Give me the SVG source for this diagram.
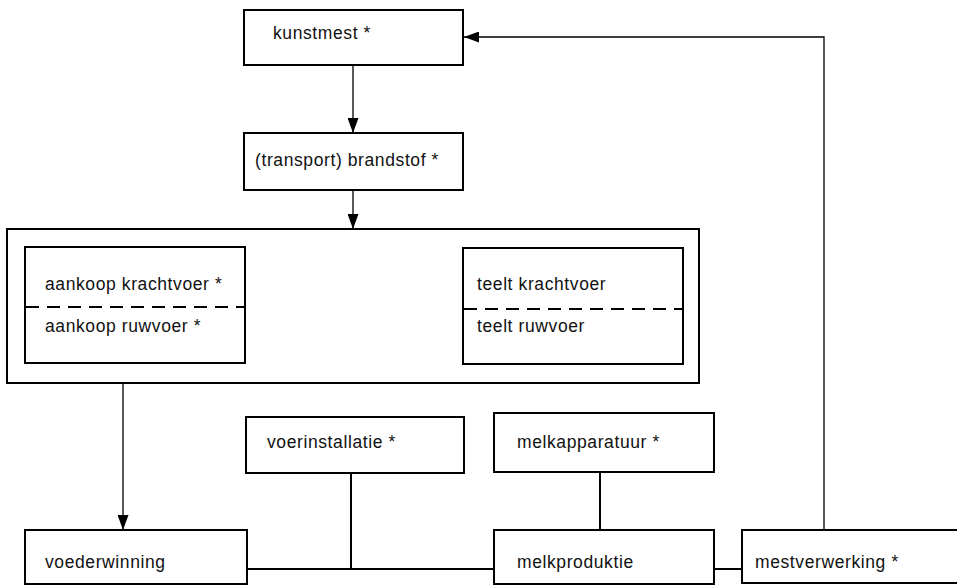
<svg xmlns="http://www.w3.org/2000/svg" width="957" height="587" viewBox="0 0 957 587">
<style>
.box{fill:#fff;stroke:#000;stroke-width:2}
.frame{fill:none;stroke:#000;stroke-width:2}
.t{font-family:"Liberation Sans",Arial,sans-serif;font-size:17.5px;letter-spacing:0.6px;fill:#111}
.dash{stroke:#000;stroke-width:2;stroke-dasharray:13 8;fill:none}
.thin{stroke:#000;stroke-width:1.3;fill:none}
.thick{stroke:#000;stroke-width:2;fill:none}
</style>
<defs>
<marker id="ah" viewBox="0 0 15 11" refX="15" refY="5.5" markerWidth="15" markerHeight="11" markerUnits="userSpaceOnUse" orient="auto">
<path d="M0,0 L15,5.5 L0,11 Z" fill="#000"/>
</marker>
</defs>
<rect width="957" height="587" fill="#fff"/>
<g id="connectors">
<line class="thin" x1="353" y1="65" x2="353" y2="133" marker-end="url(#ah)"/>
<line class="thin" x1="353" y1="190" x2="353" y2="229" marker-end="url(#ah)"/>
<line class="thin" x1="123" y1="383" x2="123" y2="530" marker-end="url(#ah)"/>
<polyline class="thin" points="824,530 824,37 464,37" marker-end="url(#ah)"/>
<line class="thick" x1="351" y1="473" x2="351" y2="569"/>
<line class="thick" x1="247" y1="569" x2="494" y2="569"/>
<line class="thick" x1="600" y1="472" x2="600" y2="530"/>
<line class="thick" x1="714" y1="569" x2="742" y2="569"/>
</g>
<g id="kunstmest">
<rect class="box" x="244" y="10" width="219" height="55"/>
<text class="t" x="273" y="39">kunstmest *</text>
</g>
<g id="brandstof">
<rect class="box" x="244" y="133" width="219" height="57"/>
<text class="t" x="255" y="166">(transport) brandstof *</text>
</g>
<g id="voer-groep">
<rect class="frame" x="7" y="229" width="692" height="154"/>
</g>
<g id="aankoop">
<rect class="box" x="25" y="247" width="220" height="116"/>
<line class="dash" x1="26" y1="307" x2="244" y2="307"/>
<text class="t" x="45" y="290">aankoop krachtvoer *</text>
<text class="t" x="45" y="332">aankoop ruwvoer *</text>
</g>
<g id="teelt">
<rect class="box" x="463" y="248" width="220" height="116"/>
<line class="dash" x1="464" y1="309" x2="682" y2="309"/>
<text class="t" x="477" y="290">teelt krachtvoer</text>
<text class="t" x="477" y="332">teelt ruwvoer</text>
</g>
<g id="voerinstallatie">
<rect class="box" x="246" y="417" width="218" height="56"/>
<text class="t" x="267" y="448">voerinstallatie *</text>
</g>
<g id="melkapparatuur">
<rect class="box" x="494" y="413" width="220" height="59"/>
<text class="t" x="517" y="448">melkapparatuur *</text>
</g>
<g id="voederwinning">
<rect class="box" x="25" y="530" width="222" height="54"/>
<text class="t" x="45" y="568">voederwinning</text>
</g>
<g id="melkproduktie">
<rect class="box" x="494" y="530" width="220" height="54"/>
<text class="t" x="517" y="568">melkproduktie</text>
</g>
<g id="mestverwerking">
<rect class="box" x="742" y="530" width="230" height="53"/>
<text class="t" x="755" y="568">mestverwerking *</text>
</g>
</svg>
